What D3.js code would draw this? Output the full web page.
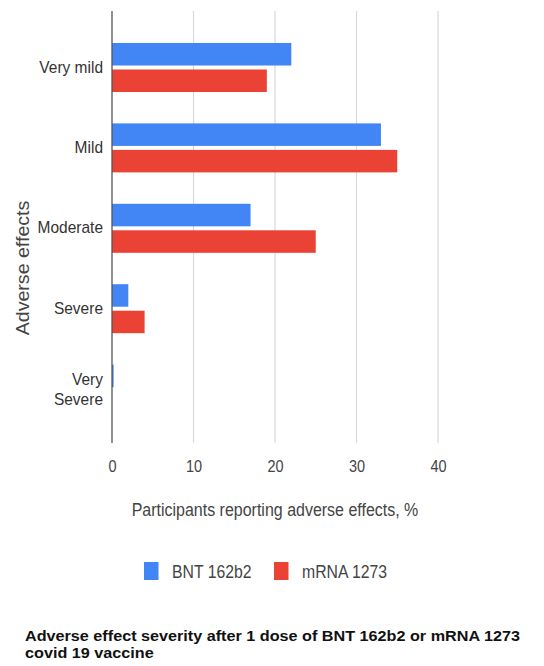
<!DOCTYPE html>
<html>
<head>
<meta charset="utf-8">
<script src="https://cdn.jsdelivr.net/npm/d3@7"></script>
<style>
  html, body { margin: 0; padding: 0; background: #fff; }
  svg { display: block; }
  text { font-family: "Liberation Sans", Arial, sans-serif; }
</style>
</head>
<body>
<svg id="chart" width="544" height="666"></svg>
<script>
// Severity categories (y axis) and percentage of participants per vaccine
const categories = ["Very mild", "Mild", "Moderate", "Severe", "Very Severe"];
const seriesNames = ["BNT 162b2", "mRNA 1273"];
const bntValues = [22, 33, 17, 2, 0.2];
const mrnaValues = [19, 35, 25, 4, 0];
const xTicks = [0, 10, 20, 30, 40];
const colors = ["#4285f4", "#ea4335"];

const xTitle = "Participants reporting adverse effects, %";
const yTitle = "Adverse effects";
const titleLines = [
  "Adverse effect severity after 1 dose of BNT 162b2 or mRNA 1273",
  "covid 19 vaccine"
];

const rows = categories.map((c, i) => ({
  category: c,
  values: [bntValues[i], mrnaValues[i]]
}));

const svg = d3.select("#chart");
const SY = 1.12; // text is drawn slightly tall

const plot = { left: 112, right: 438, top: 11, bottom: 443 };

const x = d3.scaleLinear().domain([0, 40]).range([plot.left, plot.right]);
const y0 = d3.scaleBand().domain(categories).range([27.3, 429.3]);
const groupH = 49;
const y1 = d3.scaleBand().domain(seriesNames).range([0, groupH]).paddingInner(0.15);

function tallText(sel, px, py) {
  return sel.attr("transform", `translate(${px},${py}) scale(1,${SY})`);
}

// Vertical gridlines
svg.append("g").selectAll("line")
  .data(xTicks.filter(t => t !== 0))
  .join("line")
  .attr("x1", d => x(d)).attr("x2", d => x(d))
  .attr("y1", plot.top).attr("y2", plot.bottom)
  .attr("stroke", "#d9d9d9").attr("stroke-width", 1.2);

// Bars
const groups = svg.append("g").selectAll("g")
  .data(rows)
  .join("g")
  .attr("transform", d => `translate(0,${y0(d.category) + y0.bandwidth() / 2 - groupH / 2})`);

groups.selectAll("rect")
  .data(d => d.values.map((v, k) => ({ series: seriesNames[k], value: v, k })))
  .join("rect")
  .attr("x", x(0))
  .attr("y", d => y1(d.series))
  .attr("width", d => x(d.value) - x(0))
  .attr("height", y1.bandwidth())
  .attr("fill", d => colors[d.k]);

// Zero baseline
svg.append("line")
  .attr("x1", x(0)).attr("x2", x(0))
  .attr("y1", plot.top).attr("y2", plot.bottom)
  .attr("stroke", "#555").attr("stroke-width", 1.3);

// X axis tick labels
const xAxis = d3.axisBottom(x).tickValues(xTicks).tickSize(0).tickPadding(0);
const gx = svg.append("g").call(xAxis);
gx.select(".domain").remove();
gx.selectAll(".tick text").each(function() {
  d3.select(this)
    .attr("y", null).attr("dy", null)
    .attr("text-anchor", "middle")
    .attr("font-size", 14.5).attr("fill", "#444")
    .attr("transform", `translate(0,472) scale(1,${SY})`);
});

// Y category labels (right aligned, "Very Severe" wraps onto two lines)
const yLabels = svg.append("g");
rows.forEach(r => {
  const cy = y0(r.category) + y0.bandwidth() / 2;
  const words = r.category === "Very Severe" ? ["Very", "Severe"] : [r.category];
  words.forEach((w, j) => {
    const offset = words.length === 1 ? 5 : (j === 0 ? -4 : 16);
    tallText(yLabels.append("text"), 103, cy + offset)
      .attr("text-anchor", "end")
      .attr("font-size", 15.5).attr("fill", "#333")
      .text(w);
  });
});

// Axis titles
tallText(svg.append("text"), (plot.left + plot.right) / 2, 516)
  .attr("text-anchor", "middle").attr("font-size", 16).attr("fill", "#444")
  .text(xTitle);

svg.append("text")
  .attr("transform", `translate(29,268) rotate(-90) scale(${SY},1)`)
  .attr("text-anchor", "middle").attr("font-size", 17.5).attr("fill", "#444")
  .text(yTitle);

// Legend
const legend = svg.append("g");
const legendItems = [
  { name: seriesNames[0], color: colors[0], sx: 144, tx: 172 },
  { name: seriesNames[1], color: colors[1], sx: 274, tx: 302 }
];
legendItems.forEach(it => {
  legend.append("rect")
    .attr("x", it.sx).attr("y", 562).attr("width", 14.5).attr("height", 18)
    .attr("fill", it.color);
  tallText(legend.append("text"), it.tx, 578)
    .attr("font-size", 15.8).attr("fill", "#444")
    .text(it.name);
});

// Chart title (two lines, drawn slightly wide)
titleLines.forEach((line, i) => {
  svg.append("text")
    .attr("transform", `translate(25,${641 + i * 17}) scale(1.117,1)`)
    .attr("font-size", 14.5).attr("font-weight", "bold").attr("fill", "#111")
    .text(line);
});
</script>
</body>
</html>
